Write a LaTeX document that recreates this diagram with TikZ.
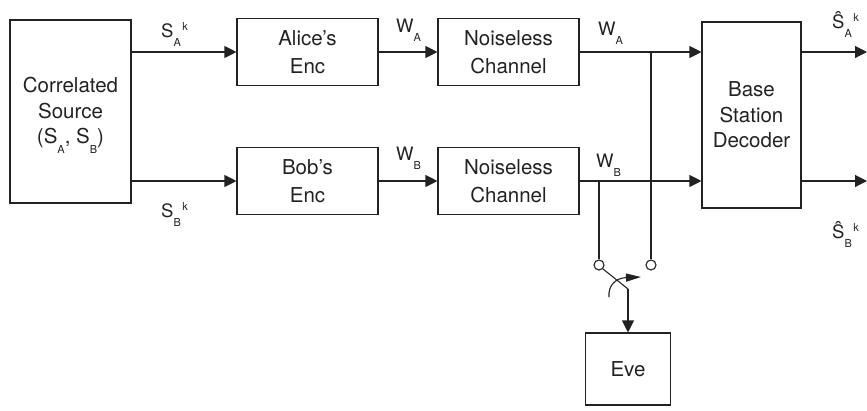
\documentclass[tikz,border=0pt]{standalone}
\usepackage{fontspec}
\setmainfont{TeX Gyre Heros}
\usetikzlibrary{arrows.meta}
\definecolor{ink}{HTML}{222222}
\newcommand\lsub[2]{#1\raisebox{-9.5pt}{\fontsize{11}{11}\selectfont #2}}
\newcommand\lsubsup[3]{#1\raisebox{-9.5pt}{\fontsize{11}{11}\selectfont #2}\raisebox{6.5pt}{\fontsize{11}{11}\selectfont\kern1.5pt #3}}
\begin{document}
\begin{tikzpicture}[x=1pt,y=-1pt,
  blk/.style={draw=ink,line width=1.1pt,align=center,inner sep=0pt,text=ink,
    font=\fontsize{20.5}{27.5}\selectfont},
  blkthree/.style={blk,font=\fontsize{20.5}{25.5}\selectfont},
  txt/.style={align=center,inner sep=0pt,text=ink,font=\fontsize{20.5}{25.5}\selectfont},
  conn/.style={draw=ink,line width=1.1pt},
  arr/.style={conn,-{Triangle[length=12pt,width=12pt]}},
  lbl/.style={font=\fontsize{18.5}{20}\selectfont,inner sep=0pt,anchor=base west,text=ink},
  term/.style={circle,draw=ink,line width=1.1pt,inner sep=0pt,minimum size=10pt,fill=white}]
\useasboundingbox (0,0) rectangle (867,410);

% blocks
\node[blk,minimum width=121pt,minimum height=183pt] (src) at (70.5,111.5) {};
\node[txt] (srcT) at (70.5,115.5) {Correlated\\Source\\(\lsub{S}{A}, \lsub{S}{B})};
\node[blk,minimum width=141pt,minimum height=67pt] (alice) at (307.5,52) {Alice's\\Enc};
\node[blk,minimum width=141pt,minimum height=67pt] (chA) at (508.5,52) {Noiseless\\Channel};
\node[blk,minimum width=141pt,minimum height=67pt] (bob) at (307.5,181) {Bob's\\Enc};
\node[blk,minimum width=141pt,minimum height=67pt] (chB) at (508.5,181) {Noiseless\\Channel};
\node[blkthree,minimum width=99pt,minimum height=186pt] (dec) at (751.5,115) {Base\\Station\\Decoder};
\node[blk,minimum width=85pt,minimum height=72pt] (eve) at (628,369) {Eve};

% junctions and switch
\coordinate (jA) at (651,52);
\coordinate (jB) at (599,181);
\node[term] (tA) at (651,265) {};
\node[term] (tB) at (599,265) {};
\coordinate (pv) at (628,289);
\coordinate (arcS) at (609,297);
\coordinate (arcE) at (641,277);
\coordinate (outA) at (867,52);
\coordinate (outB) at (867,181);

% connectors
\draw[arr] (src.east |- alice) -- (alice.west);
\draw[arr] (src.east |- bob) -- (bob.west);
\draw[arr] (alice.east) -- (chA.west);
\draw[arr] (bob.east) -- (chB.west);
\draw[arr] (chA.east) -- (chA.east -| dec.west);
\draw[arr] (chB.east) -- (chB.east -| dec.west);
\draw[arr] (dec.east |- outA) -- (outA);
\draw[arr] (dec.east |- outB) -- (outB);
\draw[conn] (jA) -- (tA.north);
\draw[conn] (jB) -- (tB.north);
\draw[conn] (tB.south east) -- (pv);
\draw[arr] (pv) -- (eve.north);
\draw[conn,-{Triangle[length=15pt,width=8pt]}] (arcS) .. controls (608,285) and (616,278) .. (arcE);

% labels
\node[lbl] (lSA) at (161,37) {\lsubsup{S}{A}{k}};
\node[lbl] (lSB) at (161,217) {\lsubsup{S}{B}{k}};
\node[lbl] (lWA1) at (396,32) {\lsub{W}{A}};
\node[lbl] (lWB1) at (396,160) {\lsub{W}{B}};
\node[lbl] (lWA2) at (598,35) {\lsub{W}{A}};
\node[lbl] (lWB2) at (596,167) {\lsub{W}{B}};
\node[lbl] (lHA) at (832,28) {\lsubsup{\^{S}}{A}{k}};
\node[lbl] (lHB) at (832,238) {\lsubsup{\^{S}}{B}{k}};
\end{tikzpicture}
\end{document}
